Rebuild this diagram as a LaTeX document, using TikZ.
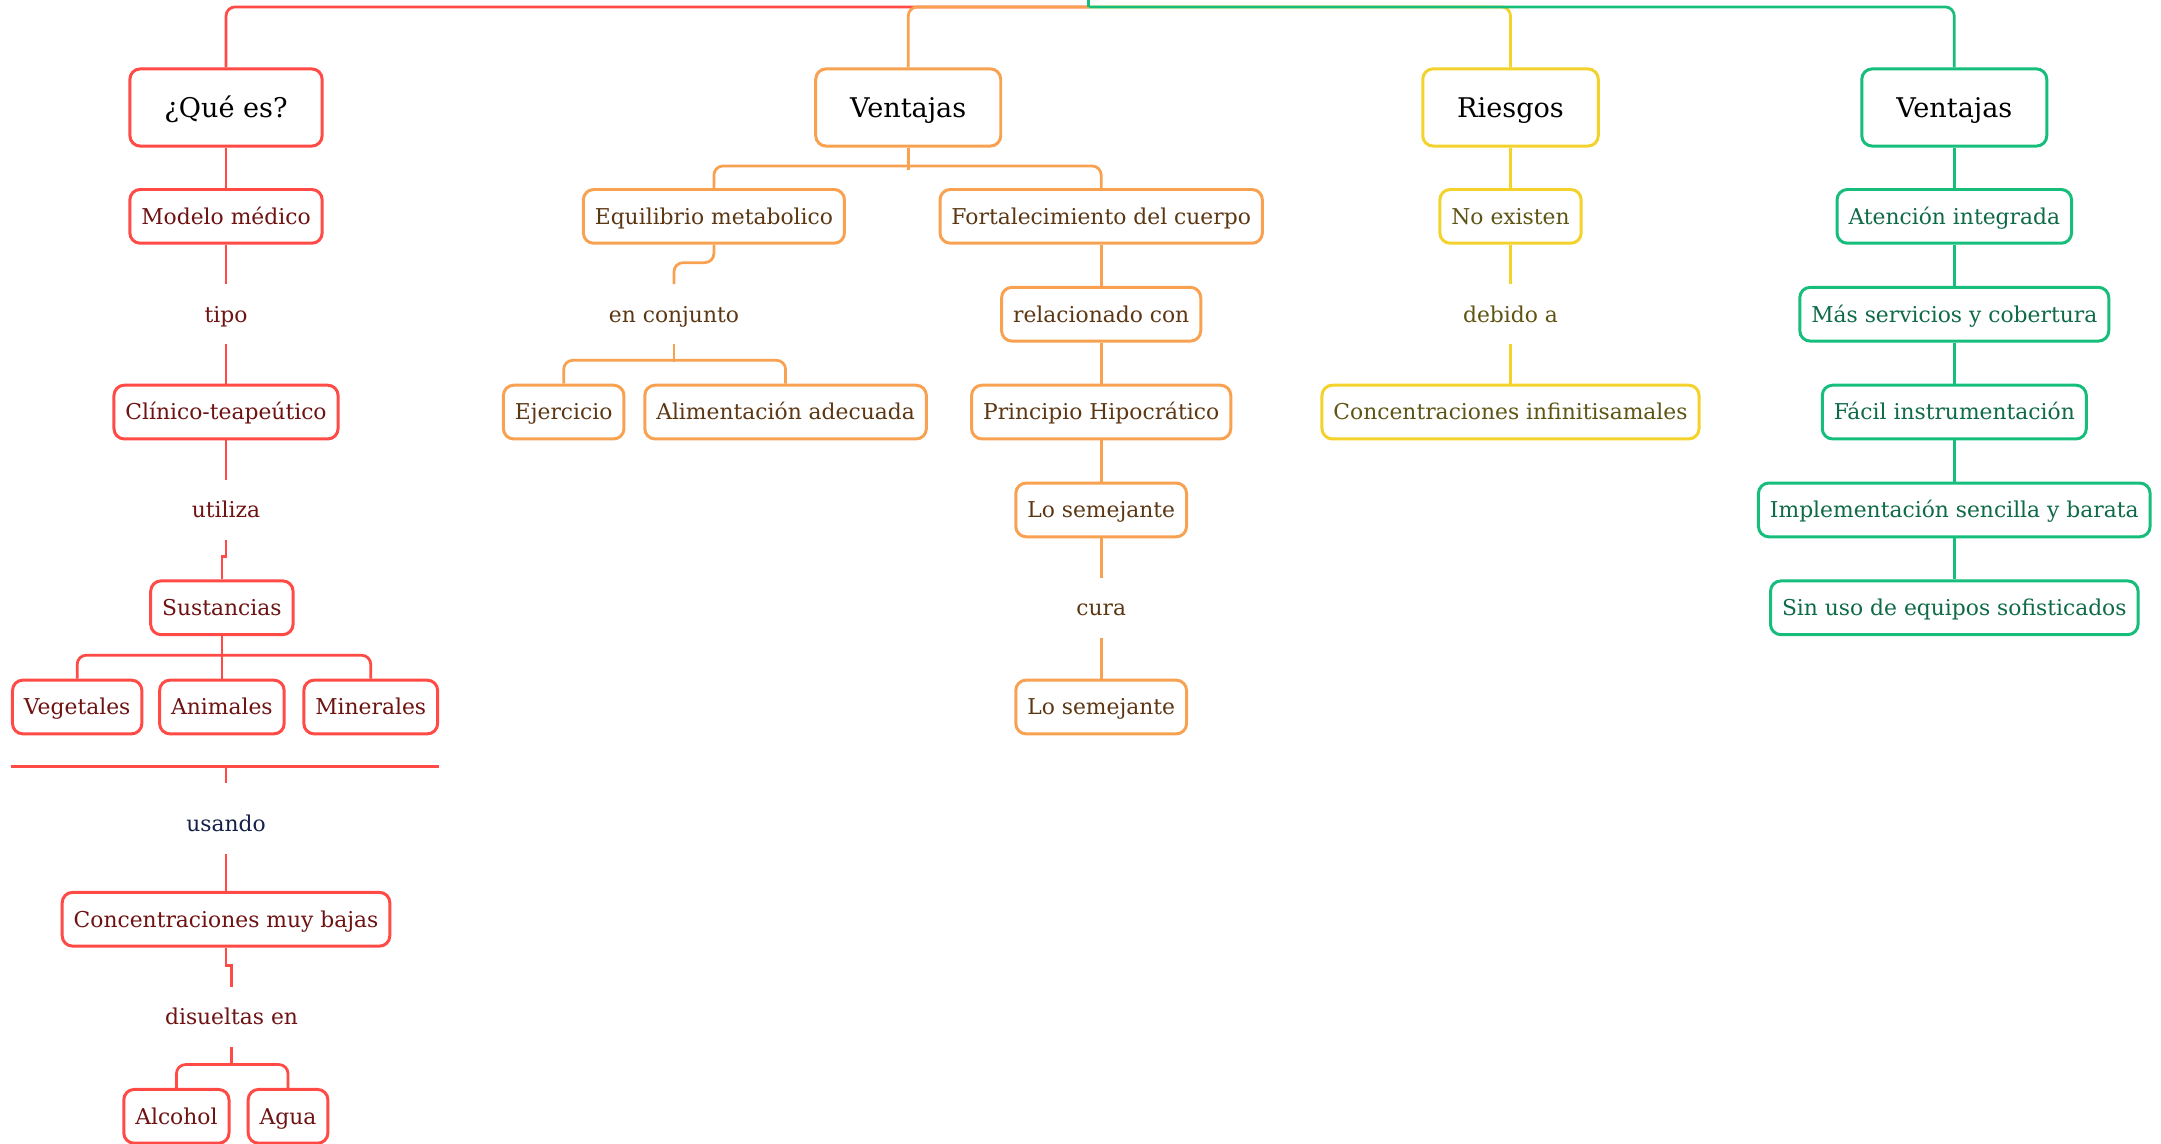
\documentclass[tikz,border=0pt]{standalone}
\usepackage{fontspec}
\setmainfont{DejaVu Serif}
\usetikzlibrary{calc}
\definecolor{redl}{HTML}{FF4A45}
\definecolor{redt}{HTML}{6E1212}
\definecolor{orgl}{HTML}{F8A251}
\definecolor{orgt}{HTML}{5C3714}
\definecolor{ylwl}{HTML}{F3D22B}
\definecolor{ylwt}{HTML}{5E5414}
\definecolor{grnl}{HTML}{17BE7B}
\definecolor{grnt}{HTML}{0E6A47}
\definecolor{navy}{HTML}{16204A}
\tikzset{
  box/.style={draw, rounded corners=4.5pt, line width=1.3pt, fill=white, minimum height=23.4pt, inner xsep=5pt, inner ysep=0pt, text height=8pt, text depth=1.2pt, font=\fontsize{9.5}{11}\selectfont},
  head/.style={box, minimum height=33.6pt, inner xsep=15pt, text=black, text height=9.5pt, text depth=0.9pt, font=\fontsize{11.8}{14}\selectfont},
  word/.style={minimum height=25.8pt, inner sep=0pt, text height=8pt, text depth=1.2pt, font=\fontsize{9.5}{11}\selectfont},
  ln/.style={line width=1.2pt, rounded corners=4pt},
  rbr/.style={box, draw=redl, text=redt},
  obr/.style={box, draw=orgl, text=orgt},
  ybr/.style={box, draw=ylwl, text=ylwt},
  gbr/.style={box, draw=grnl, text=grnt},
}

\begin{document}
\begin{tikzpicture}[x=0.6pt, y=-0.6pt]
  \useasboundingbox (0,0) rectangle (1568,830);
  \coordinate (root) at (790,5);

  % ¿Qué es?
  \node[head, draw=redl] (que) at (164,78) {¿Qué es?};
  \node[rbr] (mod) at (164,157) {Modelo médico};
  \node[word, text=redt] (tipo) at (164,228) {tipo};
  \node[rbr] (cli) at (164,299) {Clínico-teapeútico};
  \node[word, text=redt] (util) at (164,370) {utiliza};
  \node[rbr] (sus) at (161,441) {Sustancias};
  \node[rbr] (veg) at (56,513) {Vegetales};
  \node[rbr] (ani) at (161,513) {Animales};
  \node[rbr] (min) at (269,513) {Minerales};
  \coordinate (bar) at (164,556);
  \node[word, text=navy] (usa) at (164,598) {usando};
  \node[rbr] (cmb) at (164,667) {Concentraciones muy bajas};
  \node[word, text=redt] (dis) at (168,738) {disueltas en};
  \node[rbr] (alc) at (128,810) {Alcohol};
  \node[rbr] (agu) at (209,810) {Agua};

  % Ventajas
  \node[head, draw=orgl] (ven) at (659,78) {Ventajas};
  \node[obr] (equ) at (518,157) {Equilibrio metabolico};
  \node[word, text=orgt] (con) at (489,228) {en conjunto};
  \node[obr] (eje) at (409,299) {Ejercicio};
  \node[obr] (ali) at (570,299) {Alimentación adecuada};
  \node[obr] (fort) at (799,157) {Fortalecimiento del cuerpo};
  \node[obr] (rel) at (799,228) {relacionado con};
  \node[obr] (pri) at (799,299) {Principio Hipocrático};
  \node[obr] (se1) at (799,370) {Lo semejante};
  \node[word, text=orgt] (cur) at (799,441) {cura};
  \node[obr] (se2) at (799,513) {Lo semejante};

  % Riesgos
  \node[head, draw=ylwl] (rie) at (1096,78) {Riesgos};
  \node[ybr] (noe) at (1096,157) {No existen};
  \node[word, text=ylwt] (deb) at (1096,228) {debido a};
  \node[ybr] (cin) at (1096,299) {Concentraciones infinitisamales};

  % Ventajas (verde)
  \node[head, draw=grnl] (ve2) at (1418,78) {Ventajas};
  \node[gbr] (ate) at (1418,157) {Atención integrada};
  \node[gbr] (mas) at (1418,228) {Más servicios y cobertura};
  \node[gbr] (fac) at (1418,299) {Fácil instrumentación};
  \node[gbr] (imp) at (1418,370) {Implementación sencilla y barata};
  \node[gbr] (sin) at (1418,441) {Sin uso de equipos sofisticados};

  % top
  \draw[ln, redl] (root) -| (que.north);
  \draw[ln, orgl] (root) -| (ven.north);
  \draw[ln, ylwl] (root) -| (rie.north);
  \draw[ln, grnl] (root) -| (ve2.north);
  \draw[ln, grnl] (root) -- ++(0,-10);

  % red links
  \draw[ln, redl] (que.south) -- (mod.north);
  \draw[ln, redl] (mod.south) -- (tipo.north);
  \draw[ln, redl] (tipo.south) -- (cli.north);
  \draw[ln, redl] (cli.south) -- (util.north);
  \draw[ln, redl, sharp corners] (util.south) -- ++(0,12) -| (sus.north);
  \draw[ln, redl] (sus.south) -- (ani.north);
  \draw[ln, redl] (veg.north) -- ++(0,-17) -| (min.north);
  \draw[ln, redl] (veg.west |- bar) -- (min.east |- bar);
  \draw[ln, redl] (bar) -- ++(0,12);
  \draw[ln, redl] (usa.south) -- (cmb.north);
  \draw[ln, redl, sharp corners] (cmb.south) -- ++(0,13) -| (dis.north);
  \draw[ln, redl] (dis.south) -- ++(0,14);
  \draw[ln, redl] (alc.north) -- ++(0,-17) -| (agu.north);

  % orange links
  \draw[ln, orgl] (ven.south) -- ++(0,16);
  \draw[ln, orgl] (equ.north) -- ++(0,-16) -| (fort.north);
  \draw[ln, orgl] (equ.south) -- ++(0,13) -| (con.north);
  \draw[ln, orgl] (con.south) -- ++(0,13);
  \draw[ln, orgl] (eje.north) -- ++(0,-17) -| (ali.north);
  \draw[ln, orgl] (fort.south) -- (rel.north);
  \draw[ln, orgl] (rel.south) -- (pri.north);
  \draw[ln, orgl] (pri.south) -- (se1.north);
  \draw[ln, orgl] (se1.south) -- (cur.north);
  \draw[ln, orgl] (cur.south) -- (se2.north);

  % yellow links
  \draw[ln, ylwl] (rie.south) -- (noe.north);
  \draw[ln, ylwl] (noe.south) -- (deb.north);
  \draw[ln, ylwl] (deb.south) -- (cin.north);

  % green links
  \draw[ln, grnl] (ve2.south) -- (ate.north);
  \draw[ln, grnl] (ate.south) -- (mas.north);
  \draw[ln, grnl] (mas.south) -- (fac.north);
  \draw[ln, grnl] (fac.south) -- (imp.north);
  \draw[ln, grnl] (imp.south) -- (sin.north);
\end{tikzpicture}
\end{document}
